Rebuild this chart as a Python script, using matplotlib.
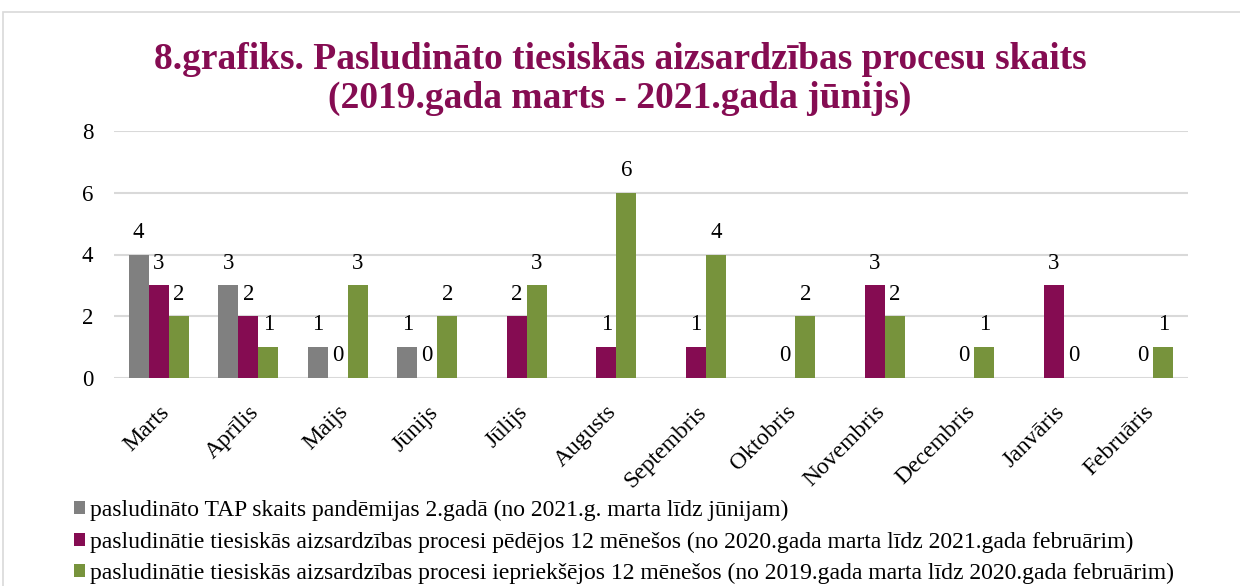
import matplotlib
matplotlib.use("Agg")
import matplotlib.pyplot as plt
import numpy as np
from matplotlib.patches import Rectangle

months = ["Marts", "Aprīlis", "Maijs", "Jūnijs", "Jūlijs", "Augusts", "Septembris",
          "Oktobris", "Novembris", "Decembris", "Janvāris", "Februāris"]
tap_2gads = [4, 3, 1, 1, None, None, None, None, None, None, None, None]
pedejie_12 = [3, 2, 0, 0, 2, 1, 1, 0, 3, 0, 3, 0]
ieprieksejie_12 = [2, 1, 3, 2, 3, 6, 4, 2, 2, 1, 0, 1]
series_names = [
    "pasludināto TAP skaits pandēmijas 2.gadā (no 2021.g. marta līdz jūnijam)",
    "pasludinātie tiesiskās aizsardzības procesi pēdējos 12 mēnešos (no 2020.gada marta līdz 2021.gada februārim)",
    "pasludinātie tiesiskās aizsardzības procesi iepriekšējos 12 mēnešos (no 2019.gada marta līdz 2020.gada februārim)",
]
colors = ["#808080", "#850C52", "#77933C"]
title = "8.grafiks. Pasludināto tiesiskās aizsardzības procesu skaits\n(2019.gada marts - 2021.gada jūnijs)"

plt.rcParams["font.family"] = ["Liberation Serif", "DejaVu Serif"]

fig = plt.figure(figsize=(12.4, 5.86), dpi=100)
# chart frame
fig.patches.append(Rectangle((3 / 1240, -0.01), 1.1, 1 - 12 / 586 + 0.01, transform=fig.transFigure,
                             fill=False, edgecolor="#d9d9d9", linewidth=1.2))

ax = fig.add_axes([114 / 1240, 208 / 586, (1188 - 114) / 1240, 247 / 586])
x = np.arange(len(months))
w = 0.224
all_series = [tap_2gads, pedejie_12, ieprieksejie_12]
handles = []
for i, (vals, c) in enumerate(zip(all_series, colors)):
    v = np.array([np.nan if a is None else a for a in vals], dtype=float)
    pos = x + (i - 1) * w
    bars = ax.bar(pos, np.nan_to_num(v), width=w, color=c, label=series_names[i], zorder=3)
    handles.append(bars)
    for p, val in zip(pos, v):
        if np.isnan(val):
            continue
        ax.annotate(f"{int(val)}", (p, val), xytext=(0, 12), textcoords="offset points",
                    ha="center", va="baseline", fontsize=16.5, color="#000000")

ax.set_xlim(-0.5, len(months) - 0.5)
ax.set_ylim(0, 8)
ax.set_yticks([0, 2, 4, 6, 8])
ax.yaxis.grid(True, color="#d9d9d9", linewidth=1.5, zorder=0)
for s in ax.spines.values():
    s.set_visible(False)
ax.tick_params(axis="both", length=0, labelsize=16.5)
ax.tick_params(axis="y", pad=15)
ax.set_xticks(x)
ax.set_xticklabels(months, rotation=45, ha="right", va="top", rotation_mode="anchor", fontsize=17)
ax.tick_params(axis="x", pad=17)

fig.text(0.5, 1 - 79 / 586, title, ha="center", va="center", fontsize=27, fontweight="bold",
         color="#850C52", linespacing=1.12)

leg = fig.legend(handles=handles, labels=series_names, loc="upper left",
                 bbox_to_anchor=(74 / 1240, 1 - 500 / 586), frameon=False, fontsize=17,
                 handlelength=0.47, handleheight=0.47, handletextpad=0.2, labelspacing=0.44,
                 borderpad=0, borderaxespad=0)

fig.savefig("out.png", dpi=100)
